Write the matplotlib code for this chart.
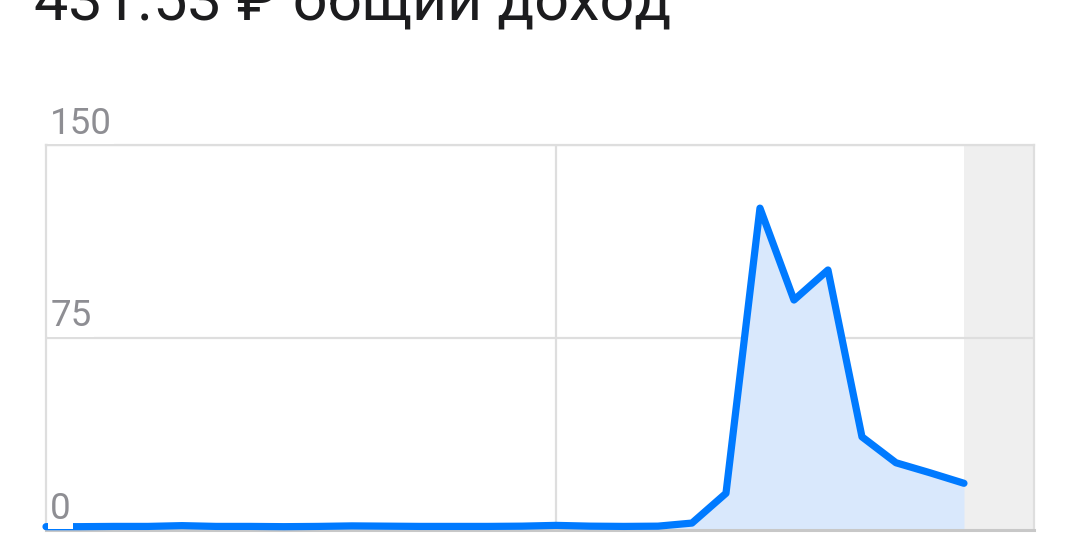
import matplotlib
matplotlib.use("Agg")
import matplotlib.pyplot as plt

title_text = "431.53 ₽ общий доход"
days = list(range(28))
income = [1.3, 1.3, 1.4, 1.4, 1.7, 1.4, 1.4, 1.3, 1.4, 1.6, 1.5, 1.4, 1.4, 1.4, 1.5, 1.8,
          1.5, 1.4, 1.5, 2.7, 14.3, 125.4, 89.6, 101.3, 36.3, 26.2, 22.3, 18.2]
y_ticks = [0, 75, 150]
y_tick_labels = ["0", "75", "150"]
x_max = 29.06
future_start = 27
vgrid_x = [15]

W, H = 1080, 540
fig = plt.figure(figsize=(W / 100, H / 100), dpi=100)
fig.patch.set_facecolor("white")

L, R, T, B = 46, 1034, 145, 530
ax = fig.add_axes([L / W, 1 - B / H, (R - L) / W, (B - T) / H])
ax.set_xlim(0, x_max)
ax.set_ylim(0, 150)
ax.set_facecolor("white")

grid_c = "#DEDEDE"
ax.axvspan(future_start, x_max, color="#EFEFEF", zorder=0, lw=0)
for yv in y_ticks[1:]:
    ax.axhline(yv, color=grid_c, lw=1.6, zorder=1)
for xv in vgrid_x:
    ax.axvline(xv, color=grid_c, lw=1.6, zorder=1)

ax.fill_between(days, income, 0, color="#D9E8FC", lw=0, zorder=2)
ax.plot(days, income, color="#007AFF", lw=5.2, solid_capstyle="round",
        solid_joinstyle="round", zorder=3, clip_on=False)

for s in ["left", "right", "top"]:
    ax.spines[s].set_color(grid_c)
    ax.spines[s].set_linewidth(1.6)
ax.spines["bottom"].set_color("#C8C8C8")
ax.spines["bottom"].set_linewidth(2.2)
ax.set_xticks([])
ax.set_yticks([])

for yv, lab in zip(y_ticks, y_tick_labels):
    ax.annotate(lab, xy=(0, yv), xycoords="data", xytext=(3, 2.2),
                textcoords="offset points", ha="left", va="bottom",
                fontsize=26.5, color="#8E8E93", family=["Roboto", "DejaVu Sans"],
                bbox=dict(boxstyle="square,pad=0.06", fc="white", ec="none"),
                zorder=5, annotation_clip=False)

fig.text(34 / W, 1 - 20 / H, title_text, ha="left", va="baseline",
         fontsize=44, color="#1C1C1E", family=["Roboto", "DejaVu Sans"])

fig.savefig("out.png", dpi=100)
